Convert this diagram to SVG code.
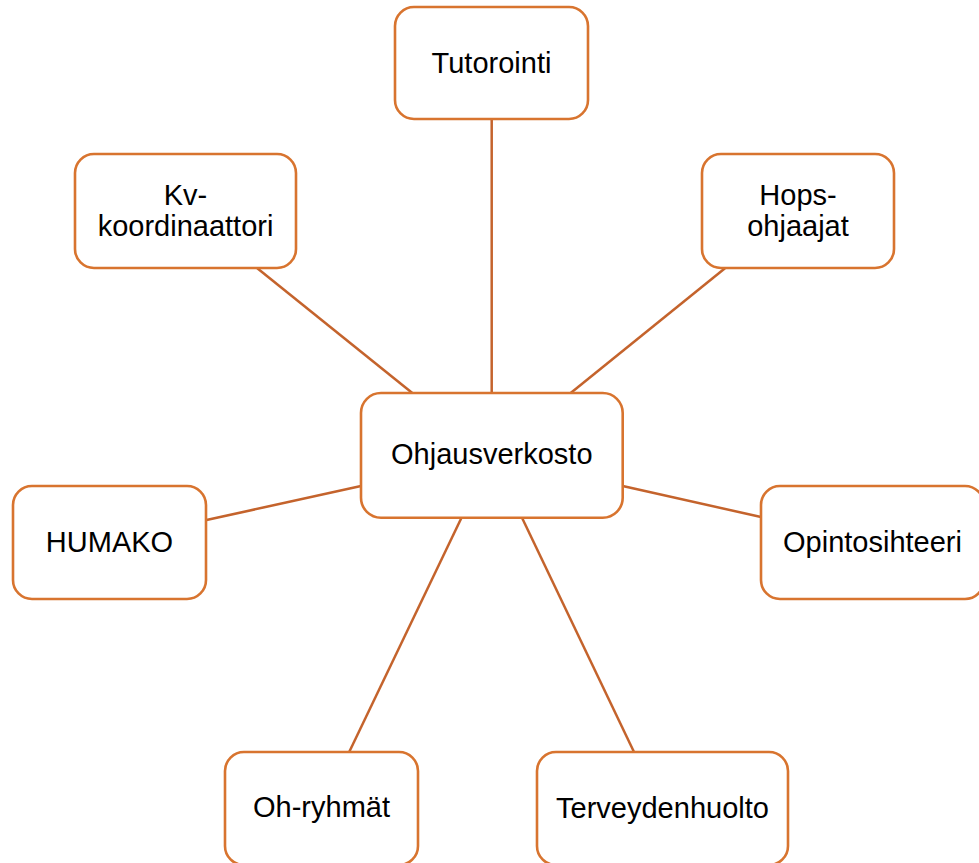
<svg xmlns="http://www.w3.org/2000/svg" width="979" height="863" viewBox="0 0 979 863">
<style>
.box{fill:#ffffff;stroke:#D8742F;stroke-width:2.6}
.lbl{font-family:"Liberation Sans",Arial,sans-serif;font-size:29px;fill:#000000;text-anchor:middle}
.edge{stroke:#C4632C;stroke-width:2.5;fill:none}
</style>
<rect width="979" height="863" fill="#ffffff"/>
<g id="connectors">
<line class="edge" x1="491.7" y1="119" x2="491.7" y2="393"/>
<line class="edge" x1="257.3" y1="268.3" x2="412.3" y2="393"/>
<line class="edge" x1="725" y1="268.3" x2="570.7" y2="393"/>
<line class="edge" x1="206.5" y1="520" x2="361" y2="486"/>
<line class="edge" x1="622.7" y1="486" x2="761" y2="517"/>
<line class="edge" x1="461.5" y1="517.7" x2="349.2" y2="752"/>
<line class="edge" x1="522" y1="517.7" x2="634" y2="752"/>
</g>
<g id="tutorointi">
<rect class="box" x="395" y="7" width="193" height="112" rx="19"/>
<text class="lbl" x="491.5" y="73.3">Tutorointi</text>
</g>
<g id="kv">
<rect class="box" x="75" y="154" width="221" height="114" rx="19"/>
<text class="lbl" x="185.5" y="205">Kv-</text>
<text class="lbl" x="185.5" y="236">koordinaattori</text>
</g>
<g id="hops">
<rect class="box" x="702" y="154" width="192" height="114" rx="19"/>
<text class="lbl" x="798" y="205">Hops-</text>
<text class="lbl" x="798" y="236">ohjaajat</text>
</g>
<g id="ohjausverkosto">
<rect class="box" x="361" y="393" width="261.7" height="124.7" rx="20"/>
<text class="lbl" x="491.8" y="464">Ohjausverkosto</text>
</g>
<g id="humako">
<rect class="box" x="13" y="486" width="193" height="113" rx="19"/>
<text class="lbl" x="109.5" y="551.7">HUMAKO</text>
</g>
<g id="opintosihteeri">
<rect class="box" x="761" y="486" width="223" height="113" rx="19"/>
<text class="lbl" x="872.5" y="551.7">Opintosihteeri</text>
</g>
<g id="ohryhmat">
<rect class="box" x="225" y="752" width="193" height="113" rx="19"/>
<text class="lbl" x="321.5" y="817.3">Oh-ryhmät</text>
</g>
<g id="terveydenhuolto">
<rect class="box" x="537" y="752" width="251" height="113" rx="19"/>
<text class="lbl" x="662.5" y="818">Terveydenhuolto</text>
</g>
</svg>
